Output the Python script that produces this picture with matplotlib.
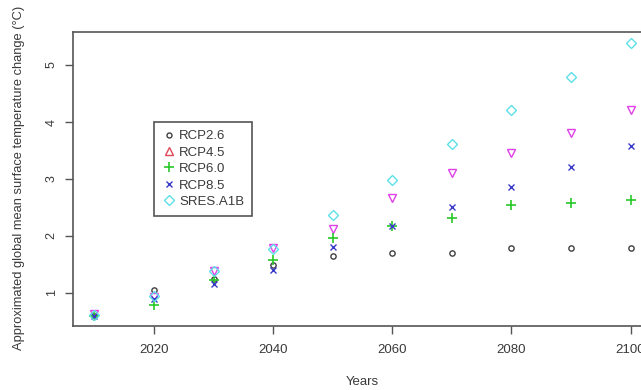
import matplotlib.pyplot as plt
from matplotlib.lines import Line2D

plt.rcParams['font.family'] = ['Liberation Sans', 'DejaVu Sans']

# Decadal projections of warming (degC)
years = [2010, 2020, 2030, 2040, 2050, 2060, 2070, 2080, 2090, 2100]
rcp26 = [0.60, 1.05, 1.24, 1.49, 1.64, 1.70, 1.70, 1.79, 1.79, 1.79]
rcp45 = [0.63, 0.93, 1.39, 1.79, 2.12, 2.66, 3.11, 3.46, 3.81, 4.21]
rcp60 = [0.60, 0.79, 1.22, 1.58, 1.96, 2.18, 2.31, 2.54, 2.58, 2.63]
rcp85 = [0.60, 0.90, 1.16, 1.40, 1.81, 2.18, 2.51, 2.86, 3.21, 3.58]
a1b = [0.62, 0.95, 1.38, 1.78, 2.37, 2.98, 3.61, 4.21, 4.79, 5.39]

labels = ["RCP2.6", "RCP4.5", "RCP6.0", "RCP8.5", "SRES.A1B"]

ink = "#3a3a3a"
fig = plt.figure(figsize=(6.41, 3.90), dpi=100)
ax = fig.add_axes([73 / 641, 64 / 390, 579 / 641, 294 / 390])

ax.plot(years, rcp26, "o", ms=3.8, mfc="none", mec="#404040", mew=1.0, ls="none")
ax.plot(years, rcp45, "v", ms=6.2, mfc="none", mec="#e040e8", mew=1.0, ls="none")
ax.plot(years, rcp60, "+", ms=6.5, mec="#28c828", mew=1.2, ls="none")
ax.plot(years, rcp85, "x", ms=4.6, mec="#3a3ac8", mew=1.0, ls="none")
ax.plot(years, a1b, "D", ms=4.6, mfc="none", mec="#5ee0e8", mew=1.0, ls="none")

ax.set_xlim(2006.4, 2103.6)
ax.set_ylim(0.42, 5.58)
ax.set_xticks([2020, 2040, 2060, 2080, 2100])
ax.set_yticks([1, 2, 3, 4, 5])
ax.set_yticklabels(["1", "2", "3", "4", "5"], rotation=90, va="center")

for side in ["left", "top", "bottom"]:
    ax.spines[side].set_color("#555555")
    ax.spines[side].set_linewidth(1.2)
ax.spines["right"].set_visible(False)
ax.tick_params(direction="out", length=6, width=1.0, color="#555555",
               labelcolor=ink, labelsize=9.5)
ax.tick_params(axis="x", pad=7)
ax.tick_params(axis="y", pad=5, labelsize=9)

fig.text(362 / 641, 1 - 382 / 390, "Years", ha="center", va="center",
         fontsize=9.5, color=ink)
fig.text(19 / 641, 1 - 178 / 390,
         "Approximated global mean surface temperature change (\u00b0C)",
         rotation=90, ha="center", va="center", fontsize=9.3, color=ink)

# legend symbols as drawn by the original device
handles = [
    Line2D([], [], marker="o", ms=3.6, mfc="none", mec="#404040", ls="none"),
    Line2D([], [], marker="^", ms=6, mfc="none", mec="#e04858", ls="none"),
    Line2D([], [], marker="+", ms=7, mec="#28c828", mew=1.2, ls="none"),
    Line2D([], [], marker="x", ms=4.5, mec="#3a3ac8", ls="none"),
    Line2D([], [], marker="D", ms=4.6, mfc="none", mec="#5ee0e8", ls="none"),
]
leg = fig.legend(handles, labels, loc="upper left",
                 bbox_to_anchor=(154 / 641, 1 - 122 / 390), borderaxespad=0,
                 fontsize=9.5, labelspacing=0.32, handlelength=1.0,
                 handletextpad=0.3, borderpad=0.6, fancybox=False,
                 framealpha=1, edgecolor="#555555", labelcolor=ink)
leg.get_frame().set_linewidth(1.2)

fig.savefig("out.png", dpi=100)
